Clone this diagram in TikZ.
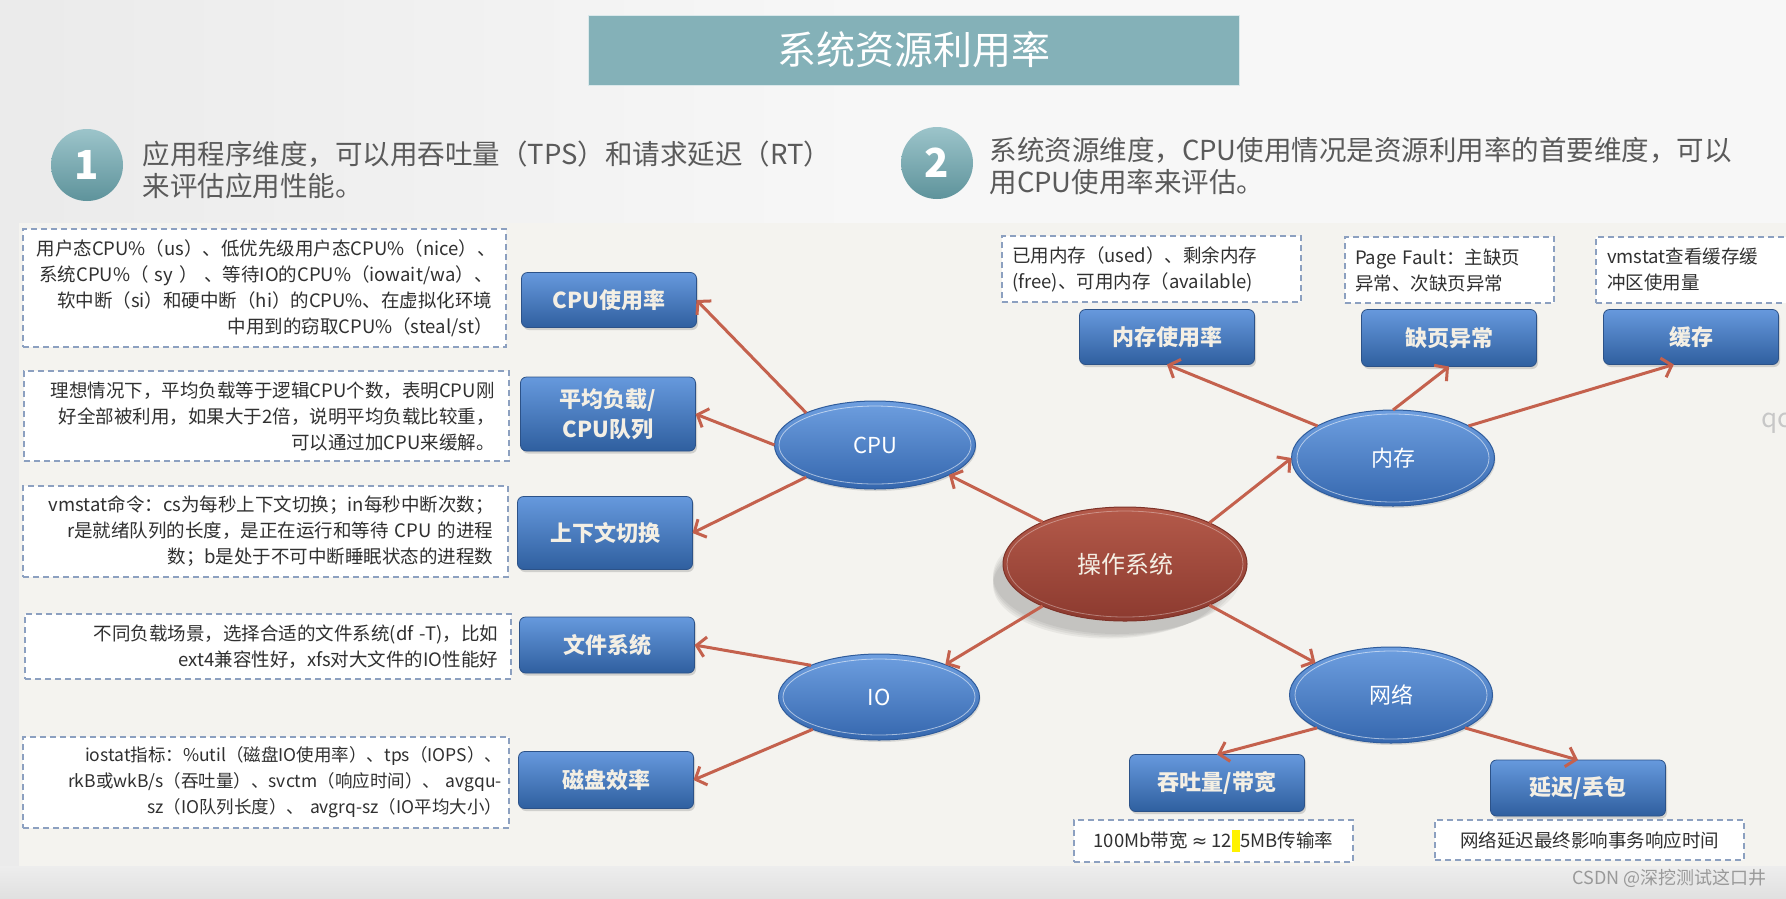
\documentclass[tikz,border=0pt]{standalone}
\usepackage{fontspec}
\setmainfont{Noto Sans CJK SC}
\newfontfamily\dejavu{DejaVu Sans}
\usetikzlibrary{shapes.geometric,arrows.meta,shadows}
\definecolor{titleC}{HTML}{84B1B8}
\definecolor{headC}{HTML}{5A5A5A}
\definecolor{panelC}{HTML}{F4F3EF}
\definecolor{btnTop}{HTML}{6699DD}
\definecolor{btnBot}{HTML}{2F5F9F}
\definecolor{btnEdge}{HTML}{2C5288}
\definecolor{btnText}{HTML}{F4EFE4}
\definecolor{ellTop}{HTML}{6E9FE0}
\definecolor{ellBot}{HTML}{3567AE}
\definecolor{ellEdge}{HTML}{2F5C9C}
\definecolor{osTop}{HTML}{B45A4A}
\definecolor{osBot}{HTML}{8C3A2F}
\definecolor{osEdge}{HTML}{7E3329}
\definecolor{arrowC}{HTML}{C4614D}
\definecolor{noteEdge}{HTML}{8CA0C0}
\definecolor{noteText}{HTML}{303030}
\definecolor{numTop}{HTML}{9CC4CA}
\definecolor{numBot}{HTML}{5E939B}
\begin{document}
\begin{tikzpicture}[x=1pt,y=-1pt,
  btn/.style={rectangle, rounded corners=6pt, top color=btnTop, bottom color=btnBot,
    draw=btnEdge, line width=0.8pt, text=btnText,
    font=\fontsize{22}{27}\selectfont\bfseries, align=center,
    minimum width=175pt, minimum height=55pt, inner sep=0pt, outer sep=0pt,
    drop shadow={shadow xshift=1.5pt, shadow yshift=-2.5pt, opacity=0.3}},
  bell/.style={ellipse, top color=ellTop, bottom color=ellBot, draw=ellEdge,
    line width=1pt, text=white, font=\fontsize{22}{26}\selectfont,
    minimum width=201pt, minimum height=88pt, inner sep=0pt, outer sep=0pt,
    drop shadow={shadow xshift=1pt, shadow yshift=-2pt, opacity=0.25}},
  rell/.style={ellipse, top color=osTop, bottom color=osBot, draw=osEdge,
    line width=1pt, text=btnText, font=\fontsize{24}{28}\selectfont,
    minimum width=244pt, minimum height=114pt, inner sep=0pt, outer sep=0pt},
  note/.style={rectangle, draw=noteEdge, dash pattern=on 6pt off 4pt,
    line width=1.2pt, fill=white, text=noteText,
    font=\fontsize{18.5}{26}\selectfont, inner sep=0pt, outer sep=0pt},
  link/.style={draw=arrowC, line width=3pt,
    -{Straight Barb[length=9pt,width=20pt]}},
  numc/.style={circle, minimum size=72pt, inner sep=0pt, top color=numTop,
    bottom color=numBot, text=white, font=\fontsize{40}{40}\selectfont\bfseries},
  head/.style={anchor=west, text=headC, font=\fontsize{27.5}{32}\selectfont, align=left}
]
\useasboundingbox (0,0) rectangle (1786,898);
% backgrounds
\shade[left color=black!8, right color=black!3, middle color=white!97!black] (0,0) rectangle (1786,898);
\fill[panelC] (19,223) rectangle (1786,866);
\shade[top color=black!7, bottom color=black!12] (0,866) rectangle (1786,898);

% title
\node[fill=titleC, draw=white!70!titleC, minimum width=651pt, minimum height=70pt,
  inner sep=0pt, text=white, font=\fontsize{39}{42}\selectfont] (title) at (913.5,50) {系统资源利用率};

% heading items
\node[numc] (n1) at (87,165) {1};
\node[head] (h1) at (139,170) {应用程序维度，可以用吞吐量（TPS）和请求延迟（RT）\\来评估应用性能。};
\node[numc] (n2) at (937,163) {2};
\node[head] (h2) at (986,166) {系统资源维度，CPU使用情况是资源利用率的首要维度，可以\\用CPU使用率来评估。};

% left notes
\node[note, minimum width=483pt, minimum height=118pt, text width=456pt, align=right] (t1) at (264.5,288)
  {用户态CPU\%（us）、低优先级用户态CPU\%（nice）、\\系统CPU\%（ sy ） 、等待IO的CPU\%（iowait/wa）、\\软中断（si）和硬中断（hi）的CPU\%、在虚拟化环境\\中用到的窃取CPU\%（steal/st）};
\node[note, minimum width=485pt, minimum height=90pt, text width=456pt, align=right] (t2) at (266.5,416)
  {理想情况下，平均负载等于逻辑CPU个数，表明CPU刚\\好全部被利用，如果大于2倍，说明平均负载比较重，\\可以通过加CPU来缓解。};
\node[note, minimum width=485pt, minimum height=91pt, text width=456pt, align=right] (t3) at (265.5,531.5)
  {vmstat命令：cs为每秒上下文切换；in每秒中断次数；\\r是就绪队列的长度，是正在运行和等待 CPU 的进程\\数；b是处于不可中断睡眠状态的进程数};
\node[note, minimum width=486pt, minimum height=65pt, text width=460pt, align=right] (t4) at (268,646.5)
  {不同负载场景，选择合适的文件系统(df -T)，比如\\ext4兼容性好，xfs对大文件的IO性能好};
\node[note, minimum width=486pt, minimum height=91pt, text width=472pt, align=right,
  font=\fontsize{17.5}{26}\selectfont] (t5) at (266,782.5)
  {iostat指标：\%util（磁盘IO使用率）、tps（IOPS）、\\rkB或wkB/s（吞吐量）、svctm（响应时间）、\ avgqu-\\sz（IO队列长度）、 avgrq-sz（IO平均大小）};

% right notes
\node[note, minimum width=299pt, minimum height=66pt, text width=279pt, align=left] (tm) at (1151.5,269)
  {已用内存（used）、剩余内存\\(free)、可用内存（available)};
\node[note, minimum width=209pt, minimum height=66pt, text width=189pt, align=left] (tp) at (1449.5,270)
  {Page Fault：主缺页\\异常、次缺页异常};
\node[note, minimum width=206pt, minimum height=66pt, text width=184pt, align=left] (tv) at (1699,270)
  {vmstat查看缓存缓\\冲区使用量};
\node[note, minimum width=279pt, minimum height=42pt, align=center] (tt) at (1213.5,841)
  {100Mb带宽 {\dejavu ≈} 12\textcolor{yellow}{\rule[-0.25em]{0.45em}{1.2em}}5MB传输率};
\node[note, minimum width=309pt, minimum height=40pt, align=center] (tl) at (1589.5,840)
  {网络延迟最终影响事务响应时间};

% buttons
\node[btn] (cpuuse) at (609,300) {CPU使用率};
\node[btn, minimum height=74pt, font=\fontsize{22}{30}\selectfont\bfseries] (load) at (608,414) {平均负载/\\CPU队列};
\node[btn, minimum height=73pt] (ctx) at (605,533) {上下文切换};
\node[btn, minimum height=56pt] (fs) at (607,645) {文件系统};
\node[btn, minimum height=57pt] (disk) at (606,780) {磁盘效率};
\node[btn] (memuse) at (1167,337) {内存使用率};
\node[btn, minimum height=57pt] (pf) at (1449,338) {缺页异常};
\node[btn] (cache) at (1691,337) {缓存};
\node[btn, minimum height=57pt] (tput) at (1217,783) {吞吐量/带宽};
\node[btn, minimum height=56pt] (lat) at (1578,788) {延迟/丢包};

% soft shadow of the central ellipse
\foreach \k/\o in {0/0.05,3/0.05,6/0.05,9/0.05}{
  \fill[black, opacity=\o] (1117-\k,576+\k) ellipse [x radius=124-\k, y radius=58-\k/2];
}
% ellipses
\node[rell] (os) at (1125,564) {操作系统};
\node[bell] (cpu) at (875,445) {CPU};
\node[bell, minimum height=86pt] (io) at (879,697) {IO};
\node[bell, minimum width=203pt, minimum height=96pt] (mem) at (1393,458) {内存};
\node[bell, minimum width=203pt, minimum height=96pt] (net) at (1391,695) {网络};
\foreach \n/\ry in {cpu/39,io/38,mem/44,net/44}{
  \draw[white, opacity=0.55, line width=0.8pt] (\n.center) ellipse [x radius=96, y radius=\ry];
}
\draw[white, opacity=0.35, line width=0.8pt] (os.center) ellipse [x radius=118, y radius=53];

% connectors
\draw[link] (cpu.155) -- (cpuuse.east);
\draw[link] (cpu.180) -- (load.east);
\draw[link] (cpu.205) -- (ctx.east);
\draw[link] (os.153) -- (cpu.338);
\draw[link] (os.207) -- (io.26);
\draw[link] (io.155) -- (fs.east);
\draw[link] (io.206) -- (disk.east);
\draw[link] (os.26) -- (mem.west);
\draw[link] (os.334) -- (net.157);
\draw[link] (mem.157) -- (memuse.south);
\draw[link] (mem.90) -- (pf.south);
\draw[link] (mem.23) -- (cache.238);
\draw[link] (net.204) -- (tput.north);
\draw[link] (net.336) -- (lat.north);

% watermarks
\node[anchor=west, text=black!22, font=\fontsize{26}{28}\selectfont] (qc) at (1758,423) {qc};
\node[anchor=east, text=black!40, font=\fontsize{18}{20}\selectfont] (wm) at (1770,878) {CSDN @深挖测试这口井};
\end{tikzpicture}
\end{document}
